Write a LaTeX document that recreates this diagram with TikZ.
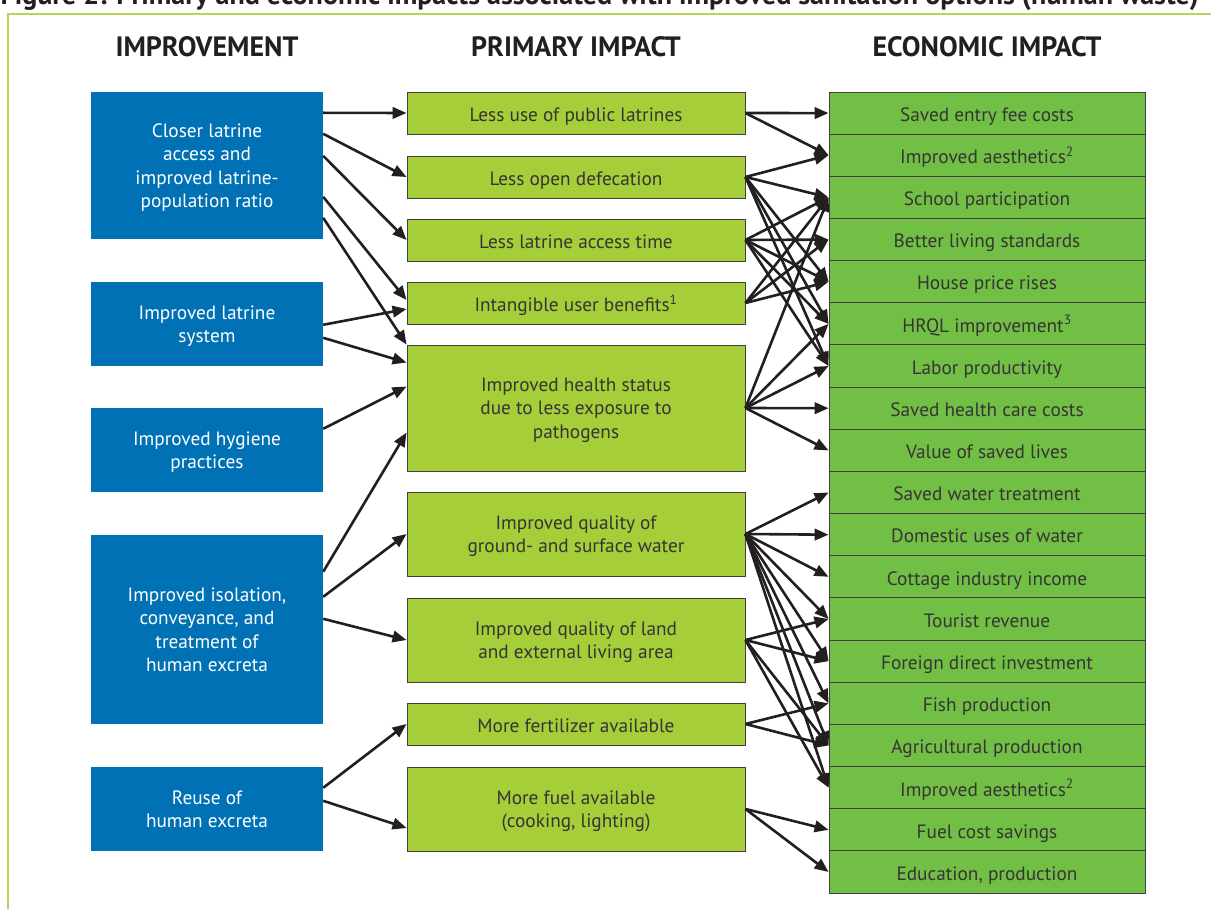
\documentclass[tikz,border=0pt]{standalone}
\usepackage{fontspec}
\setmainfont{PT Sans}
\usetikzlibrary{arrows.meta}

\definecolor{impblue}{RGB}{0,113,181}
\definecolor{primgreen}{RGB}{166,206,57}
\definecolor{ecogreen}{RGB}{113,191,68}
\definecolor{framegreen}{RGB}{180,214,90}
\definecolor{txtgray}{RGB}{55,52,53}
\definecolor{arrowblack}{RGB}{35,31,32}

\tikzset{
  boxtext/.style={align=center, inner sep=0pt, text depth=0pt, execute at end node=\strut},
  improvement/.style={boxtext, fill=impblue, text=white, minimum width=232pt},
  primary/.style={boxtext, fill=primgreen, draw=black!75, line width=0.9pt, text=txtgray, minimum width=338pt},
  economic/.style={boxtext, fill=ecogreen, draw=black!75, line width=0.9pt, text=txtgray, minimum width=316pt, minimum height=42.16pt},
  heading/.style={font=\bfseries\fontsize{28}{32}\selectfont, text=arrowblack},
  impact/.style={-{Triangle[length=14pt,width=11.5pt]}, line width=2.6pt, draw=arrowblack},
}

\begin{document}
\begin{tikzpicture}[x=1pt, y=-1pt, font=\fontsize{19.3}{23.5}\selectfont]
  \useasboundingbox (0,0) rectangle (1211,909);
  %ramme og titel
	\draw[framegreen, line width=1.2pt] (8,909) -- (8,14) -- (1211,14);
	\node[anchor=base west, font=\bfseries\fontsize{28}{32}\selectfont, text=arrowblack] (title) at (-3,5) {Figure 2: Primary and economic impacts associated with improved sanitation options (human waste)};

  %overskrifter
	\node[heading] (himp) at (207,47) {IMPROVEMENT};
	\node[heading] (hprim) at (576,47) {PRIMARY IMPACT};
	\node[heading] (heco) at (987,47) {ECONOMIC IMPACT};

  %forbedringer
	\node[improvement, minimum height=147pt] (b1) at (207,165.5) {Closer latrine\\access and\\improved latrine-\\population ratio};
	\node[improvement, minimum height=84pt] (b2) at (207,324) {Improved latrine\\system};
	\node[improvement, minimum height=84pt] (b3) at (207,450) {Improved hygiene\\practices};
	\node[improvement, minimum height=189pt] (b4) at (207,629.5) {Improved isolation,\\conveyance, and\\treatment of\\human excreta};
	\node[improvement, minimum height=84pt] (b5) at (207,809) {Reuse of\\human excreta};

  %primaere virkninger
	\node[primary, minimum height=42pt] (m1) at (576,113) {Less use of public latrines};
	\node[primary, minimum height=42pt] (m2) at (576,177) {Less open defecation};
	\node[primary, minimum height=42pt] (m3) at (576,240) {Less latrine access time};
	\node[primary, minimum height=42pt] (m4) at (576,303) {Intangible user benefits\textsuperscript{1}};
	\node[primary, minimum height=126pt] (m5) at (576,408) {Improved health status\\due to less exposure to\\pathogens};
	\node[primary, minimum height=84pt] (m6) at (576,534) {Improved quality of\\ground- and surface water};
	\node[primary, minimum height=84pt] (m7) at (576,640) {Improved quality of land\\and external living area};
	\node[primary, minimum height=42pt] (m8) at (576,724) {More fertilizer available};
	\node[primary, minimum height=84pt] (m9) at (576,809) {More fuel available\\(cooking, lighting)};

  %oekonomiske virkninger
	\node[economic] (r1) at (987,113.1) {Saved entry fee costs};
	\node[economic] (r2) at (987,155.2) {Improved aesthetics\textsuperscript{2}};
	\node[economic] (r3) at (987,197.4) {School participation};
	\node[economic] (r4) at (987,239.6) {Better living standards};
	\node[economic] (r5) at (987,281.7) {House price rises};
	\node[economic] (r6) at (987,323.9) {HRQL improvement\textsuperscript{3}};
	\node[economic] (r7) at (987,366.0) {Labor productivity};
	\node[economic] (r8) at (987,408.2) {Saved health care costs};
	\node[economic] (r9) at (987,450.4) {Value of saved lives};
	\node[economic] (r10) at (987,492.5) {Saved water treatment};
	\node[economic] (r11) at (987,534.7) {Domestic uses of water};
	\node[economic] (r12) at (987,576.8) {Cottage industry income};
	\node[economic] (r13) at (987,619.0) {Tourist revenue};
	\node[economic] (r14) at (987,661.2) {Foreign direct investment};
	\node[economic] (r15) at (987,703.3) {Fish production};
	\node[economic] (r16) at (987,745.5) {Agricultural production};
	\node[economic] (r17) at (987,787.6) {Improved aesthetics\textsuperscript{2}};
	\node[economic] (r18) at (987,829.8) {Fuel cost savings};
	\node[economic] (r19) at (987,872.0) {Education, production};

  %pile forbedring -> primaer
	\draw[impact] ([yshift=-21pt]b1.north east) -- (m1.west);
	\draw[impact] ([yshift=-42pt]b1.north east) -- (m2.west);
	\draw[impact] ([yshift=-64pt]b1.north east) -- (m3.west);
	\draw[impact] ([yshift=-105pt]b1.north east) -- ([yshift=3pt]m4.west);
	\draw[impact] ([yshift=-126pt]b1.north east) -- (m5.north west);
	\draw[impact] ([yshift=-43pt]b2.north east) -- ([yshift=-6pt]m4.west);
	\draw[impact] ([yshift=-56pt]b2.north east) -- ([yshift=-18pt]m5.north west);
	\draw[impact] ([yshift=-21pt]b3.north east) -- ([yshift=-42pt]m5.north west);
	\draw[impact] ([yshift=-37pt]b4.north east) -- ([yshift=-88pt]m5.north west);
	\draw[impact] ([yshift=-62pt]b4.north east) -- (m6.west);
	\draw[impact] ([yshift=-84pt]b4.north east) -- (m7.west);
	\draw[impact] ([yshift=-21pt]b5.north east) -- (m8.west);
	\draw[impact] ([yshift=-34pt]b5.north east) -- ([yshift=-19pt]m9.west);

  %pile primaer -> oekonomisk
  \begin{scope}[every edge/.style={impact}]
	\path (m1.east) edge (r1.west) edge (r2.west);
	\path (m2.east) edge (r2.west) edge (r3.west) edge (r5.west) edge (r6.west) edge (r7.west);
	\path (m3.east) edge (r3.west) edge (r4.west) edge (r5.west) edge (r6.west) edge (r7.west);
	\path (m4.east) edge (r3.west) edge (r4.west) edge (r5.west);
	\path (m5.east) edge (r3.west) edge (r6.west) edge (r7.west) edge (r8.west) edge (r9.west);
	\path (m6.east) edge (r10.west) edge (r11.west) edge (r12.west) edge (r13.west)
	                edge (r14.west) edge (r15.west) edge (r16.west) edge (r17.west);
	\path (m7.east) edge (r13.west) edge (r14.west) edge (r16.west) edge (r17.west);
	\path (m8.east) edge (r15.west) edge (r16.west);
	\path (m9.east) edge (r18.west) edge (r19.west);
  \end{scope}
\end{tikzpicture}
\end{document}
